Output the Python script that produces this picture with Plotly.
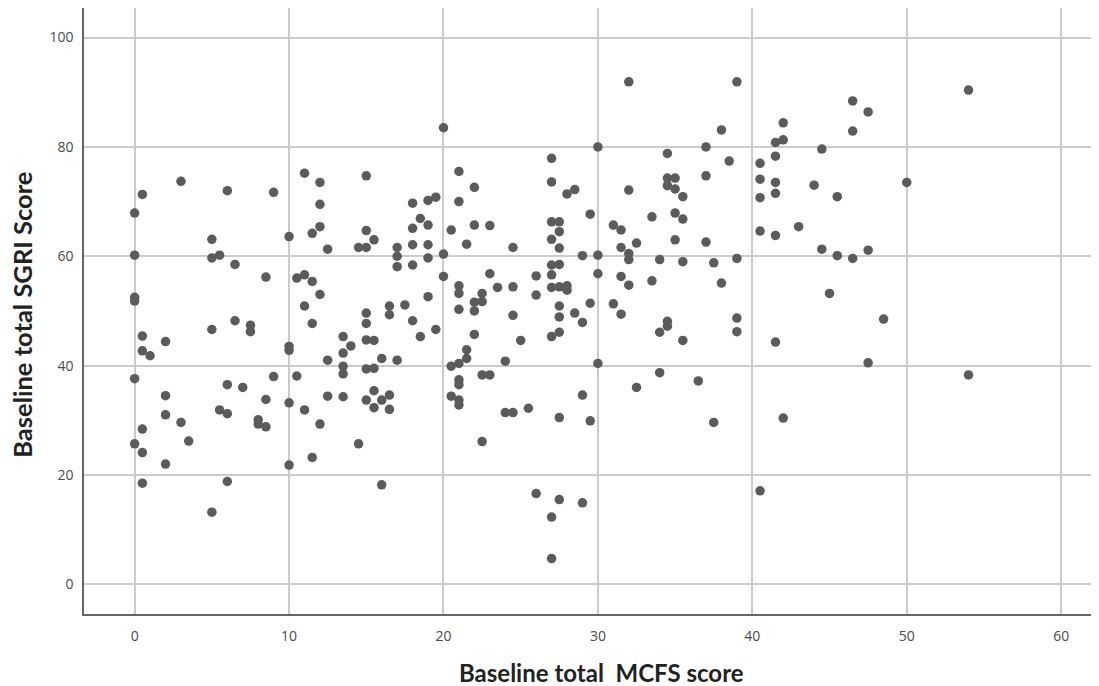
import plotly.graph_objects as go

# Baseline total MCFS score (x) and Baseline total SGRI score (y)
mcfs = [
    0.5, 0, 3, 6, 9, 11, 12, 12, 12, 11.5, 10, 12.5, 5, 0, 5, 5.5, 6.5, 8.5, 10.5, 11, 11.5, 12, 11, 0, 0,
    11.5, 5, 6.5, 7.5, 7.5, 0.5, 2, 0.5, 1, 10, 10, 12.5, 0, 6, 7, 9, 10.5, 2, 8.5, 10, 12.5, 2, 5.5, 6, 11,
    8, 8, 8.5, 3, 12, 0.5, 3.5, 0, 0.5, 2, 10, 11.5, 0.5, 6, 5,
    20, 15, 21, 22, 21, 27, 27, 28, 28.5, 18, 19, 19.5, 18.5, 18, 19, 15, 15.5, 14.5, 15, 17, 18, 19, 20.5,
    22, 23, 21.5, 24.5, 27, 27.5, 27.5, 27, 27.5, 29, 17, 17, 18, 19, 20, 20, 21, 21, 21, 22, 22.5, 22, 22.5,
    23, 23.5, 24.5, 26, 26, 27, 27.5, 27, 27, 27.5, 28, 28, 27.5, 28.5, 29.5, 19, 16.5, 16.5, 17.5, 15, 24.5,
    15, 18, 19.5, 18.5, 13.5, 14, 15, 15.5, 13.5, 16, 17, 13.5, 13.5, 15, 15.5, 13.5, 15, 15.5, 16, 16.5,
    15.5, 16.5, 14.5, 16, 22, 21.5, 21.5, 21, 20.5, 25, 24, 22.5, 23, 21, 21, 20.5, 21, 21, 24, 24.5, 25.5,
    27.5, 29, 27, 27.5, 29, 27.5, 29.5, 22.5, 26, 27.5, 29, 27, 27,
    32, 39, 42, 41.5, 42, 41.5, 44.5, 40.5, 40.5, 41.5, 41.5, 40.5, 44, 45.5, 43, 40.5, 41.5, 44.5, 45.5, 45,
    30, 34.5, 37, 38, 38.5, 37, 34.5, 35, 34.5, 35, 35.5, 32, 29.5, 33.5, 35, 35.5, 31, 31.5, 35, 37, 31.5,
    32, 32, 32.5, 30, 34, 35.5, 37.5, 39, 30, 31.5, 32, 33.5, 38, 31, 31.5, 34.5, 39,
    34.5, 34, 35.5, 39, 41.5, 30, 32.5, 34, 36.5, 37.5, 42, 40.5,
    46.5, 47.5, 46.5, 54, 50, 46.5, 47.5, 48.5, 47.5, 54,
]
sgri = [
    71.3, 67.9, 73.7, 72, 71.7, 75.2, 73.5, 69.5, 65.4, 64.2, 63.6, 61.3, 63.1, 60.2, 59.7, 60.2, 58.5, 56.2,
    56, 56.6, 55.4, 53, 50.9, 52.5, 51.8,
    47.7, 46.6, 48.2, 47.4, 46.2, 45.4, 44.4, 42.7, 41.8, 43.5, 42.8, 41.0, 37.6, 36.5, 36.0, 38.0, 38.1,
    34.5, 33.8, 33.2, 34.4, 31.0, 31.9, 31.2, 31.9, 30.1, 29.3, 28.8, 29.6, 29.3, 28.4, 26.2, 25.7, 24.1,
    22.0, 21.8, 23.2, 18.5, 18.8, 13.2,
    83.5, 74.7, 75.5, 72.6, 70.0, 77.9, 73.6, 71.4, 72.2, 69.7, 70.2, 70.8, 66.9, 65.1, 65.7, 64.7, 63.0,
    61.6, 61.6, 61.6, 62.1, 62.1, 64.8, 65.7, 65.6, 62.2, 61.6, 66.3, 66.3, 64.5, 63.1, 61.5, 60.1, 60.0,
    58.1, 58.4, 59.7, 60.4, 56.3, 54.6, 53.2, 50.3, 51.6, 53.2, 50.0, 51.7, 56.8, 54.3, 54.4, 56.4, 52.9,
    58.4, 58.5, 56.6, 54.3, 54.4, 54.6, 53.8, 50.9, 49.6, 51.4, 52.6, 50.9, 49.3, 51.1, 49.6, 49.2,
    47.7, 48.2, 46.6, 45.3, 45.3, 43.6, 44.7, 44.6, 42.3, 41.3, 41.0, 39.9, 38.5, 39.4, 39.5, 34.3, 33.7,
    35.4, 33.7, 34.6, 32.3, 32.0, 25.7, 18.2, 45.7, 42.9, 41.3, 40.4, 39.9, 44.6, 40.8, 38.3, 38.3, 37.4,
    36.5, 34.4, 33.7, 32.8, 31.4, 31.4, 32.2, 48.9, 47.9, 45.3, 46.1, 34.6, 30.5, 29.9, 26.1, 16.6, 15.5,
    14.9, 12.3, 4.7,
    91.9, 91.9, 84.4, 80.8, 81.3, 78.3, 79.6, 77.0, 74.1, 73.5, 71.5, 70.7, 73, 70.9, 65.4, 64.6, 63.8,
    61.3, 60.1, 53.2, 80, 78.8, 80, 83.1, 77.4, 74.7, 74.3, 74.3, 72.9, 72.3, 70.9, 72.1, 67.7, 67.2, 67.9,
    66.8, 65.7, 64.8, 63.0, 62.6, 61.6, 60.5, 59.4, 62.4, 60.2, 59.4, 59.0, 58.8, 59.6, 56.8, 56.3, 54.7,
    55.5, 55.1, 51.3, 49.4, 48.1, 48.7,
    47.2, 46.1, 44.6, 46.2, 44.3, 40.4, 36.0, 38.7, 37.2, 29.6, 30.4, 17.1,
    88.4, 86.4, 82.9, 90.4, 73.5, 59.6, 61.1, 48.5, 40.5, 38.3,
]

x_ticks = [0, 10, 20, 30, 40, 50, 60]
y_ticks = [0, 20, 40, 60, 80, 100]
x_title = "Baseline total\u00a0 MCFS score"
y_title = "Baseline total SGRI Score"

fig = go.Figure()
fig.add_trace(go.Scatter(
    x=mcfs, y=sgri, mode="markers",
    marker=dict(size=9.5, color="#5b5b5b", line=dict(width=0)),
    showlegend=False, hoverinfo="x+y",
))

axis_font = dict(family="Open Sans, Liberation Sans, sans-serif", size=14, color="#4a4a4a")
x_title_font = dict(family="Lato, Open Sans, sans-serif", size=24, color="#222222")
y_title_font = dict(family="Lato, Open Sans, sans-serif", size=25.5, color="#222222")

# page body has an 8px margin, so the figure is sized to fit the remaining viewport
fig.update_layout(
    width=1091, height=678,
    margin=dict(l=76, r=0, t=0, b=72),
    paper_bgcolor="white", plot_bgcolor="white",
    xaxis=dict(
        range=[-3.28, 62.45], tickvals=x_ticks, ticktext=[str(v) for v in x_ticks],
        showgrid=True, gridcolor="#cbcbcb", gridwidth=1.5, zeroline=False,
        showline=True, linecolor="#666666", linewidth=1.5,
        ticks="outside", ticklen=8, tickcolor="rgba(0,0,0,0)",
        tickfont=axis_font, automargin=False,
    ),
    yaxis=dict(
        range=[-5.43, 105.4], tickvals=y_ticks, ticktext=[str(v) for v in y_ticks],
        showgrid=True, gridcolor="#cbcbcb", gridwidth=1.5, zeroline=False,
        showline=True, linecolor="#666666", linewidth=1.5,
        ticks="outside", ticklen=6, tickcolor="rgba(0,0,0,0)",
        tickfont=axis_font, automargin=False,
    ),
    annotations=[
        dict(text="<b>" + x_title + "</b>", xref="paper", yref="paper", x=0.51, y=-0.096,
             xanchor="center", yanchor="middle", showarrow=False, font=x_title_font),
        dict(text="<b>" + y_title + "</b>", xref="paper", yref="paper", x=-0.061, y=0.494,
             xanchor="center", yanchor="middle", textangle=-90, showarrow=False, font=y_title_font),
    ],
)

fig.write_html("out.html")
